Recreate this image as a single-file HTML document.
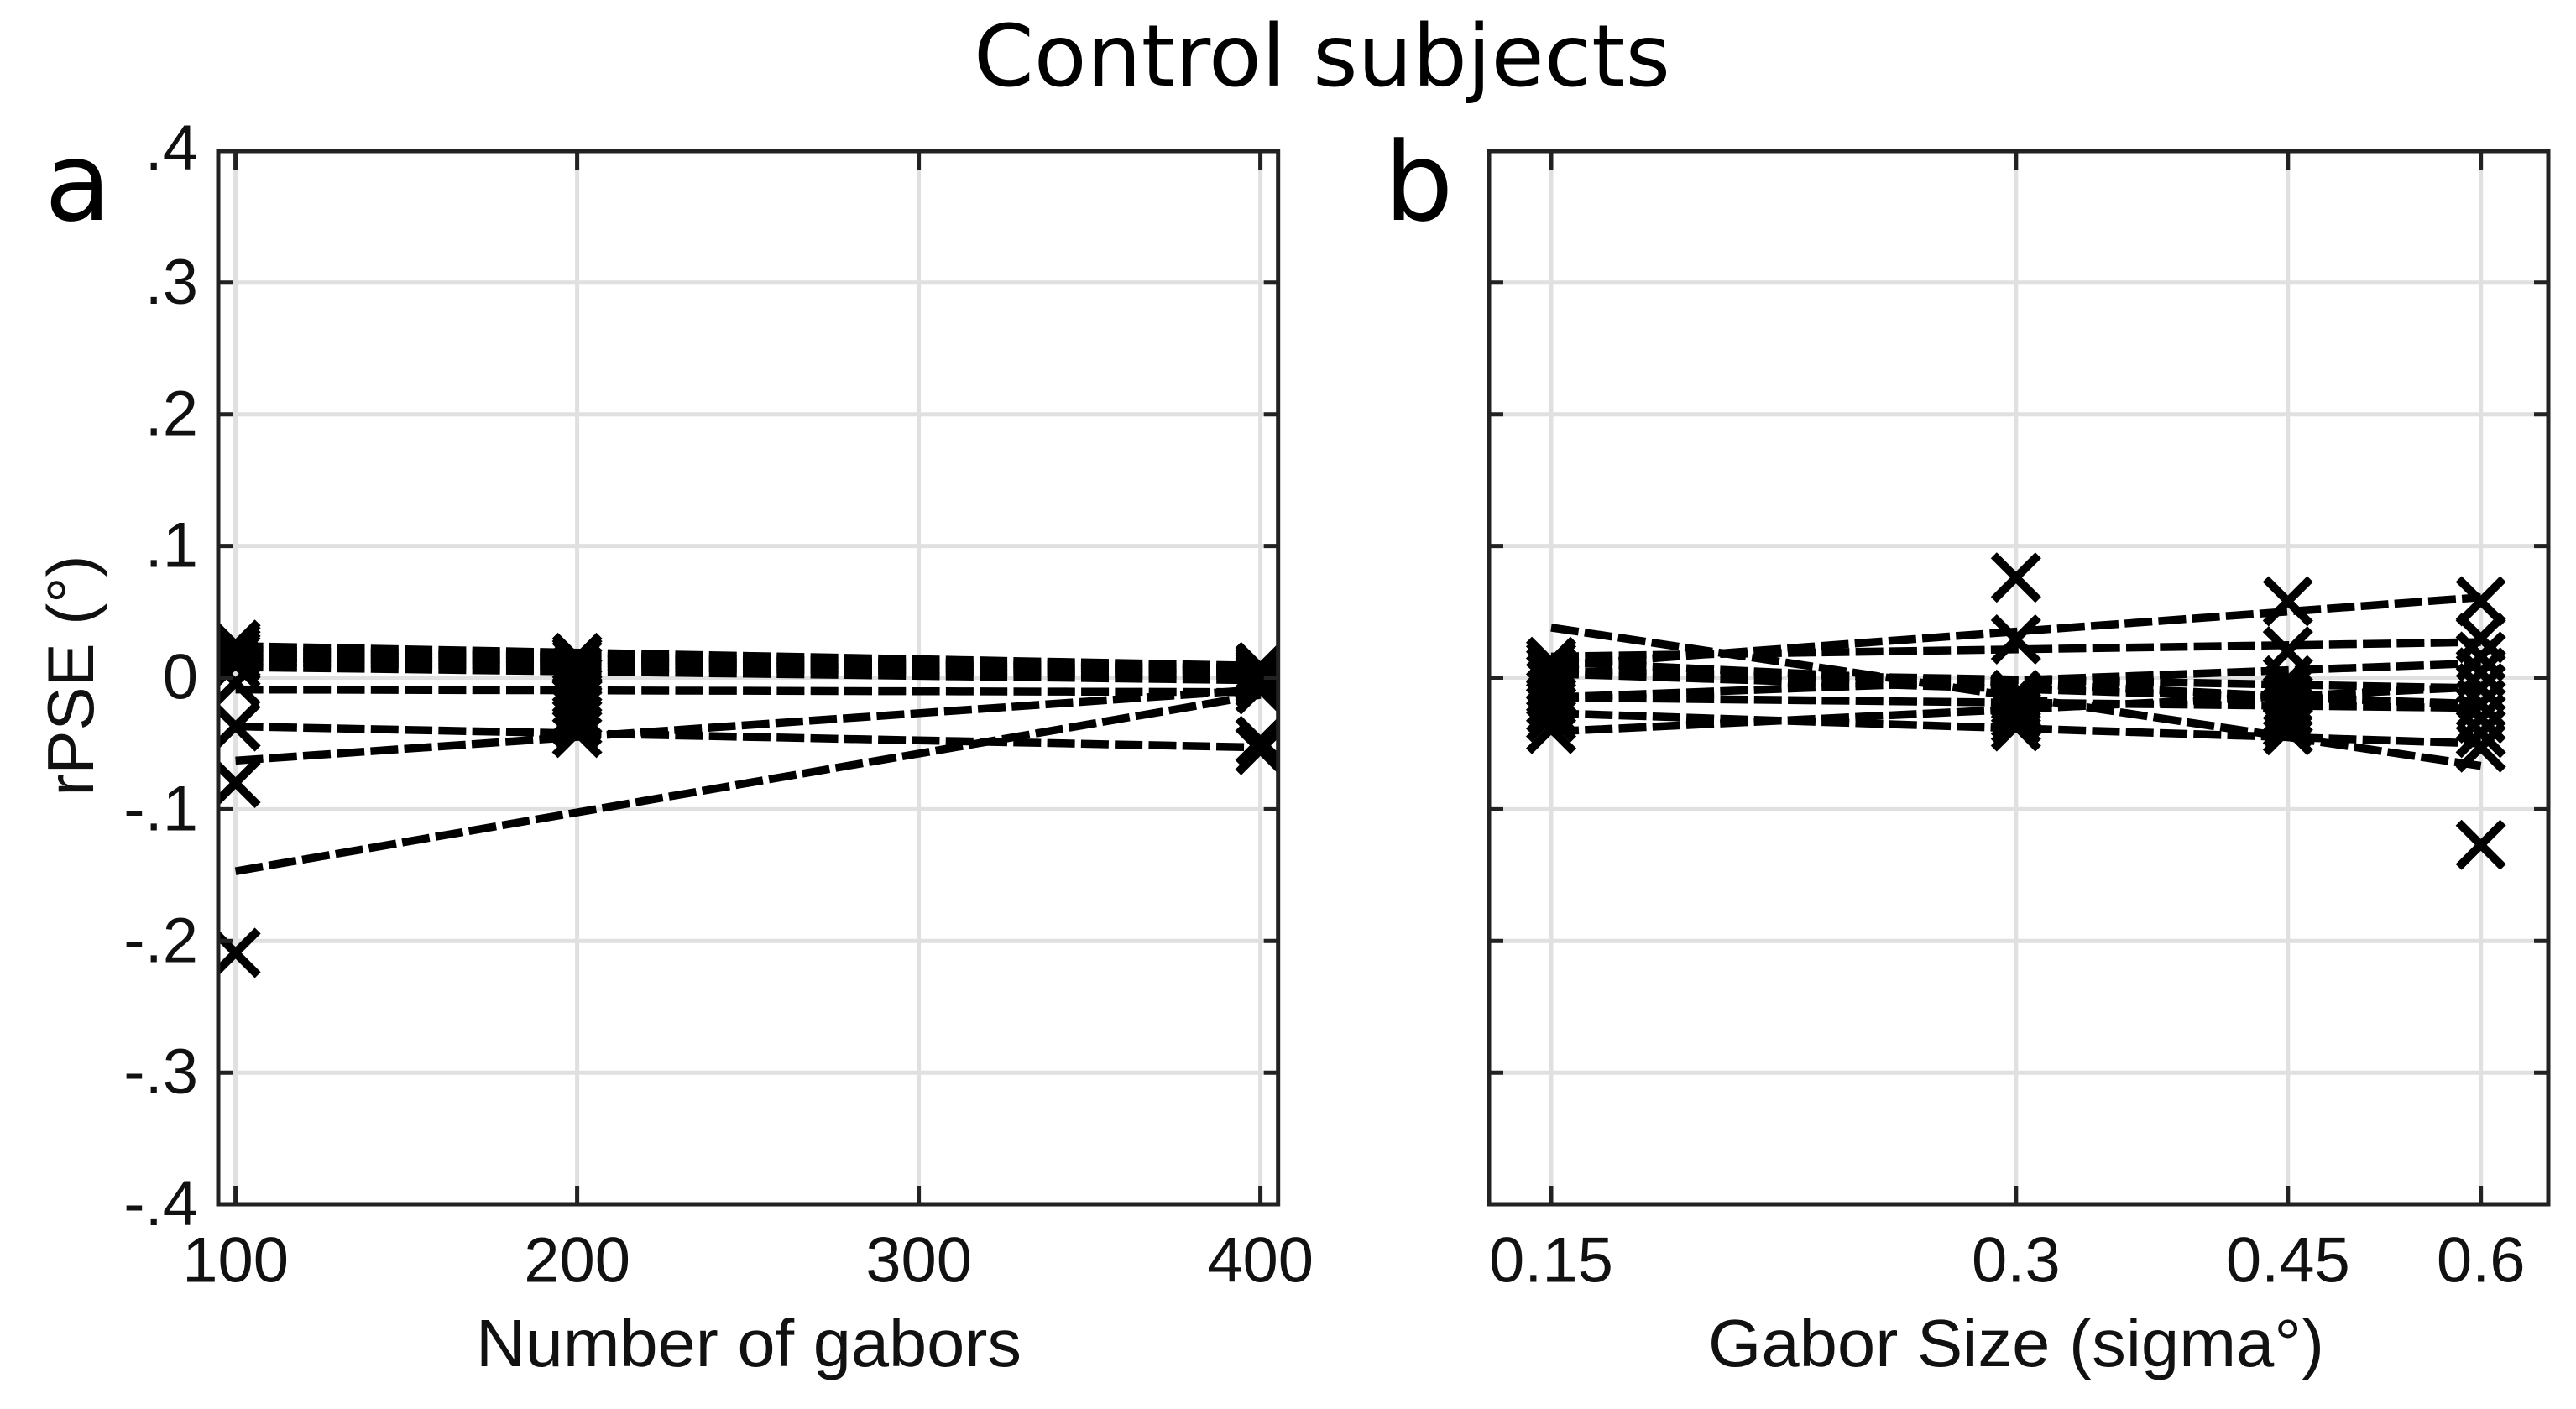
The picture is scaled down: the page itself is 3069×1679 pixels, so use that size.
<!DOCTYPE html>
<html lang="en">
<head>
<meta charset="utf-8">
<title>Control subjects</title>
<style>
html,body{margin:0;padding:0;background:#fff;width:3069px;height:1679px;overflow:hidden}
svg{display:block}
.tick{font-family:"Liberation Sans",Arial,sans-serif;font-size:76px;fill:#111}
.axis-title{font-family:"Liberation Sans",Arial,sans-serif;font-size:80px;fill:#111}
.head{font-family:"DejaVu Sans",sans-serif;fill:#000}
</style>
</head>
<body>
<svg id="chart" xmlns="http://www.w3.org/2000/svg" width="3069" height="1679" viewBox="0 0 3069 1679">
  <rect x="0" y="0" width="3069" height="1679" fill="#fff"/>
  <defs>
    <clipPath id="clip-a"><rect x="260" y="180" width="1262.7" height="1255"/></clipPath>
    <clipPath id="clip-b"><rect x="1774" y="180" width="1262" height="1255"/></clipPath>
  </defs>
  <text class="head" x="1575" y="102" font-size="102" text-anchor="middle" textLength="830" lengthAdjust="spacingAndGlyphs">Control subjects</text>
  <text class="head" x="53" y="262" font-size="130">a</text>
  <text class="head" x="1649" y="262" font-size="130">b</text>
  <text class="axis-title" transform="translate(111 805) rotate(-90)" text-anchor="middle" style="font-size:78px">rPSE (°)</text>
  <text class="axis-title" x="892" y="1628" text-anchor="middle" textLength="650" lengthAdjust="spacingAndGlyphs">Number of gabors</text>
  <text class="axis-title" x="2402" y="1628" text-anchor="middle" textLength="734" lengthAdjust="spacingAndGlyphs">Gabor Size (sigma°)</text>
  <g id="panel-a"></g>
  <g id="panel-b"></g>
</svg>
<script>
// Shared y axis
const yTickValues = [0.4, 0.3, 0.2, 0.1, 0, -0.1, -0.2, -0.3, -0.4];
const yTickLabels = [".4", ".3", ".2", ".1", "0", "-.1", "-.2", "-.3", "-.4"];

// Panel a: number of gabors (linear axis)
const aTickValues = [100, 200, 300, 400];
const aTickLabels = ["100", "200", "300", "400"];
const aConditions = [100, 200, 400];
const aPoints100 = [0.025, 0.023, 0.02, 0.017, 0.015, 0.01, -0.004, -0.037, -0.08, -0.209];
const aPoints200 = [0.015, 0.013, 0.011, 0.006, -0.002, -0.01, -0.018, -0.026, -0.034, -0.042];
const aPoints400 = [0.008, 0.006, 0.004, 0.002, 0, -0.002, -0.005, -0.009, -0.048, -0.055];
const aFitAt100 = [0.024, 0.021, 0.018, 0.015, 0.012, 0.008, -0.009, -0.037, -0.063, -0.147];
const aFitAt400 = [0.009, 0.007, 0.005, 0.003, 0.001, -0.002, -0.011, -0.053, -0.009, -0.013];

// Panel b: gabor size (log axis)
const bTickValues = [0.15, 0.3, 0.45, 0.6];
const bTickLabels = ["0.15", "0.3", "0.45", "0.6"];
const bConditions = [0.15, 0.3, 0.45, 0.6];
const bPoints015 = [0.012, 0.009, 0.005, 0, -0.005, -0.012, -0.018, -0.024, -0.03, -0.039];
const bPoints030 = [0.076, 0.029, -0.013, -0.015, -0.018, -0.021, -0.024, -0.028, -0.032, -0.037];
const bPoints045 = [0.058, 0.02, -0.002, -0.01, -0.016, -0.02, -0.025, -0.03, -0.035, -0.04];
const bPoints060 = [0.058, 0.03, 0.016, 0.004, -0.008, -0.02, -0.031, -0.042, -0.053, -0.127];
const bFitAt015 = [0.009, 0.038, 0.016, -0.015, -0.041, -0.027, 0.012, 0.003, -0.015, 0.005];
const bFitAt060 = [0.061, -0.067, 0.027, 0.011, -0.007, -0.05, -0.021, -0.02, -0.023, -0.008];

const NS = 'http://www.w3.org/2000/svg';
const TOP = 180, BOTTOM = 1435;
function yScale(v) { return 807.5 - v * 1569; }
function xScaleA(v) { return 280.6 + (v - 100) * 4.07; }
function xScaleB(v) { return 1848 + 799 * Math.log(v / 0.15); }
function mk(parent, tag) {
  const el = document.createElementNS(NS, tag);
  parent.appendChild(el);
  return el;
}
function setLine(el, x1, y1, x2, y2, stroke, width) {
  el.setAttribute('x1', x1); el.setAttribute('y1', y1);
  el.setAttribute('x2', x2); el.setAttribute('y2', y2);
  el.setAttribute('stroke', stroke); el.setAttribute('stroke-width', width);
}

function drawPanel(id, left, right, xScale, xTicks, xLabels, conds, pointSets, fitStart, fitEnd, showY, clipId) {
  const g = document.getElementById(id);
  // grid
  yTickValues.forEach(function (v) {
    const el = mk(g, 'line');
    
    
    setLine(el, left, yScale(v), right, yScale(v), '#e0e0e0', 5);
  });
  xTicks.forEach(function (v) {
    const el = mk(g, 'line');
    
    
    setLine(el, xScale(v), TOP, xScale(v), BOTTOM, '#e0e0e0', 5);
  });
  const plot = mk(g, 'g');
  plot.setAttribute('clip-path', 'url(#' + clipId + ')');
  
  
  // fit lines
  const xa = xScale(conds[0]), xb = xScale(conds[conds.length - 1]);
  fitStart.forEach(function (v, i) {
    const el = mk(plot, 'line');
    
    
    setLine(el, xa, yScale(v), xb, yScale(fitEnd[i]), '#000', 9.5);
    el.setAttribute('stroke-dasharray', '33 7.3');
  });
  // x markers
  conds.forEach(function (c, ci) {
    pointSets[ci].forEach(function (v) {
      const px = xScale(c), py = yScale(v), r = 26.5;
      const el = mk(plot, 'path');
      
      
      el.setAttribute('d', 'M' + (px - r) + ' ' + (py - r) + 'L' + (px + r) + ' ' + (py + r) + 'M' + (px - r) + ' ' + (py + r) + 'L' + (px + r) + ' ' + (py - r));
      el.setAttribute('stroke', '#000');
      el.setAttribute('stroke-width', 10);
      el.setAttribute('fill', 'none');
    });
  });
  // ticks
  yTickValues.forEach(function (v, i) {
    if (i === 0 || i === yTickValues.length - 1) { return; }
    const t1 = mk(g, 'line');
    
    
    setLine(t1, left, yScale(v), left + 17, yScale(v), '#222', 5);
    const t2 = mk(g, 'line');
    
    
    setLine(t2, right - 17, yScale(v), right, yScale(v), '#222', 5);
  });
  xTicks.forEach(function (v, i) {
    const t1 = mk(g, 'line');
    
    
    setLine(t1, xScale(v), BOTTOM - 22, xScale(v), BOTTOM, '#222', 5);
    const t2 = mk(g, 'line');
    
    
    setLine(t2, xScale(v), TOP, xScale(v), TOP + 22, '#222', 5);
    const lab = mk(g, 'text');
    
    
    lab.setAttribute('class', 'tick');
    lab.setAttribute('x', xScale(v));
    lab.setAttribute('y', 1527.5);
    lab.setAttribute('text-anchor', 'middle');
    lab.textContent = xLabels[i];
  });
  if (showY) {
    yTickValues.forEach(function (v, i) {
      const lab = mk(g, 'text');
      
      
      lab.setAttribute('class', 'tick');
      lab.setAttribute('x', 236);
      lab.setAttribute('y', yScale(v) + (i === 0 ? 22 : 25));
      lab.setAttribute('text-anchor', 'end');
      lab.textContent = yTickLabels[i];
    });
  }
  // frame
  const frame = mk(g, 'rect');
  
  
  frame.setAttribute('x', left);
  frame.setAttribute('y', TOP);
  frame.setAttribute('width', right - left);
  frame.setAttribute('height', BOTTOM - TOP);
  frame.setAttribute('fill', 'none');
  frame.setAttribute('stroke', '#222');
  frame.setAttribute('stroke-width', 5);
}

drawPanel('panel-a', 260, 1522.7, xScaleA, aTickValues, aTickLabels, aConditions,
  [aPoints100, aPoints200, aPoints400], aFitAt100, aFitAt400, true, 'clip-a');
drawPanel('panel-b', 1774, 3036, xScaleB, bTickValues, bTickLabels, bConditions,
  [bPoints015, bPoints030, bPoints045, bPoints060], bFitAt015, bFitAt060, false, 'clip-b');
</script>
</body>
</html>
